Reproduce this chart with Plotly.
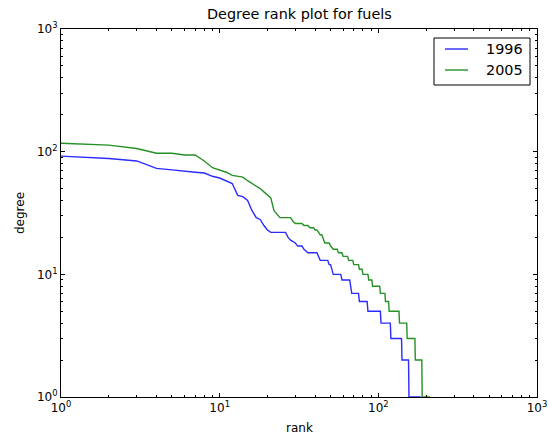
import plotly.graph_objects as go

# Degree sequences (breakpoints of the rank/degree curves)
blue_rank = [1, 2, 3, 4, 5, 6, 7, 8, 9, 10, 11, 12, 13, 14, 15, 16, 17, 18, 19, 20, 21,
             26, 27, 28, 30, 31, 33, 34, 36, 41, 42, 43, 48, 49, 50, 51, 52, 58, 59,
             66, 67, 68, 75, 76, 85, 86, 103, 104, 119, 120, 140, 141, 155, 156, 185]
blue_deg = [92, 88, 84, 73, 71, 69, 68, 67, 63, 61, 58, 55, 44, 43, 40, 33, 29, 28, 25, 23, 22,
            22, 20, 19, 18, 17, 17, 16, 15, 15, 14, 13, 13, 12, 12, 11, 10, 10, 9,
            9, 8, 7, 7, 6, 6, 5, 5, 4, 4, 3, 3, 2, 2, 1, 1]

green_rank = [1, 2, 3, 4, 5, 6, 7, 8, 9, 10, 11, 12, 13, 14, 15, 16, 17, 18, 19, 20, 21, 22, 23, 24,
              28, 29, 30, 33, 34, 36, 37, 39, 40, 41, 42, 43, 44, 45, 46, 49, 50, 52, 55, 56,
              59, 60, 64, 65, 69, 70, 75, 76, 79, 80, 86, 87, 91, 92, 102, 103, 110, 111,
              116, 117, 135, 136, 151, 152, 170, 171, 188, 189, 212]
green_deg = [117, 113, 106, 97, 97, 94, 94, 84, 74, 71, 68, 64, 63, 62, 58, 55, 52, 50, 47, 44, 42, 33, 31, 29,
             29, 27, 26, 26, 25, 25, 24, 24, 23, 23, 22, 21, 21, 19, 18, 18, 17, 16, 16, 15,
             15, 14, 14, 13, 13, 12, 12, 11, 11, 10, 10, 9, 9, 8, 8, 7, 7, 6,
             6, 5, 5, 4, 4, 3, 3, 2, 2, 1, 1]

series_names = ["1996", "2005"]
series_colors = ["#2b2bff", "#259125"]
tick_vals = [1, 10, 100, 1000]
tick_text = ["10<sup>0</sup>", "10<sup>1</sup>", "10<sup>2</sup>", "10<sup>3</sup>"]
minor_vals = [m * 10 ** e for e in range(3) for m in range(2, 10)]

FONT = "DejaVu Sans"

fig = go.Figure()
fig.add_trace(go.Scatter(x=blue_rank, y=blue_deg, mode="lines", name=series_names[0],
                         line=dict(color=series_colors[0], width=1.4), cliponaxis=False))
fig.add_trace(go.Scatter(x=green_rank, y=green_deg, mode="lines", name=series_names[1],
                         line=dict(color=series_colors[1], width=1.4), cliponaxis=False))

axis_common = dict(
    type="log", range=[0, 3], tickmode="array", tickvals=tick_vals, ticktext=tick_text,
    ticks="inside", ticklen=4, tickwidth=1, tickcolor="black",
    showline=True, linecolor="black", linewidth=1, mirror="allticks",
    showgrid=False, zeroline=False, automargin=False,
    tickfont=dict(family=FONT, size=12, color="black"),
    minor=dict(tickmode="array", tickvals=minor_vals, ticks="inside", ticklen=2,
               tickwidth=1, tickcolor="black", showgrid=False),
)

# legend drawn manually (pixel layout converted to paper coords)
L, T, W, H = 61, 29, 476, 368
def px(x):
    return (x - L) / W
def py(y):
    return (T + H - y) / H

shapes = [dict(type="rect", xref="paper", yref="paper", x0=px(434), x1=px(530),
               y0=py(85), y1=py(38), line=dict(color="black", width=1),
               fillcolor="white", layer="above")]
annotations = [
    dict(text="Degree rank plot for fuels", xref="paper", yref="paper", x=0.5, y=py(14),
         xanchor="center", yanchor="middle", showarrow=False,
         font=dict(family=FONT, size=14.4, color="black")),
    dict(text="rank", xref="paper", yref="paper", x=0.5, y=py(428),
         xanchor="center", yanchor="middle", showarrow=False,
         font=dict(family=FONT, size=12, color="black")),
    dict(text="degree", xref="paper", yref="paper", x=px(20), y=0.5,
         xanchor="center", yanchor="middle", textangle=-90, showarrow=False,
         font=dict(family=FONT, size=12, color="black")),
]
for i, (name, col) in enumerate(zip(series_names, series_colors)):
    yy = 49 + 21 * i
    shapes.append(dict(type="line", xref="paper", yref="paper", x0=px(445), x1=px(468),
                       y0=py(yy), y1=py(yy), line=dict(color=col, width=1.4), layer="above"))
    annotations.append(dict(text=name, xref="paper", yref="paper", x=px(484), y=py(yy),
                            xanchor="left", yanchor="middle", showarrow=False,
                            font=dict(family=FONT, size=14.4, color="black")))

fig.update_layout(
    width=550, height=438,
    margin=dict(l=L, r=550 - L - W, t=T, b=438 - T - H, autoexpand=False),
    paper_bgcolor="white", plot_bgcolor="white",
    font=dict(family=FONT, size=12, color="black"),
    xaxis=axis_common,
    yaxis=axis_common,
    showlegend=False,
    shapes=shapes,
    annotations=annotations,
)

fig.write_html("out.html")
